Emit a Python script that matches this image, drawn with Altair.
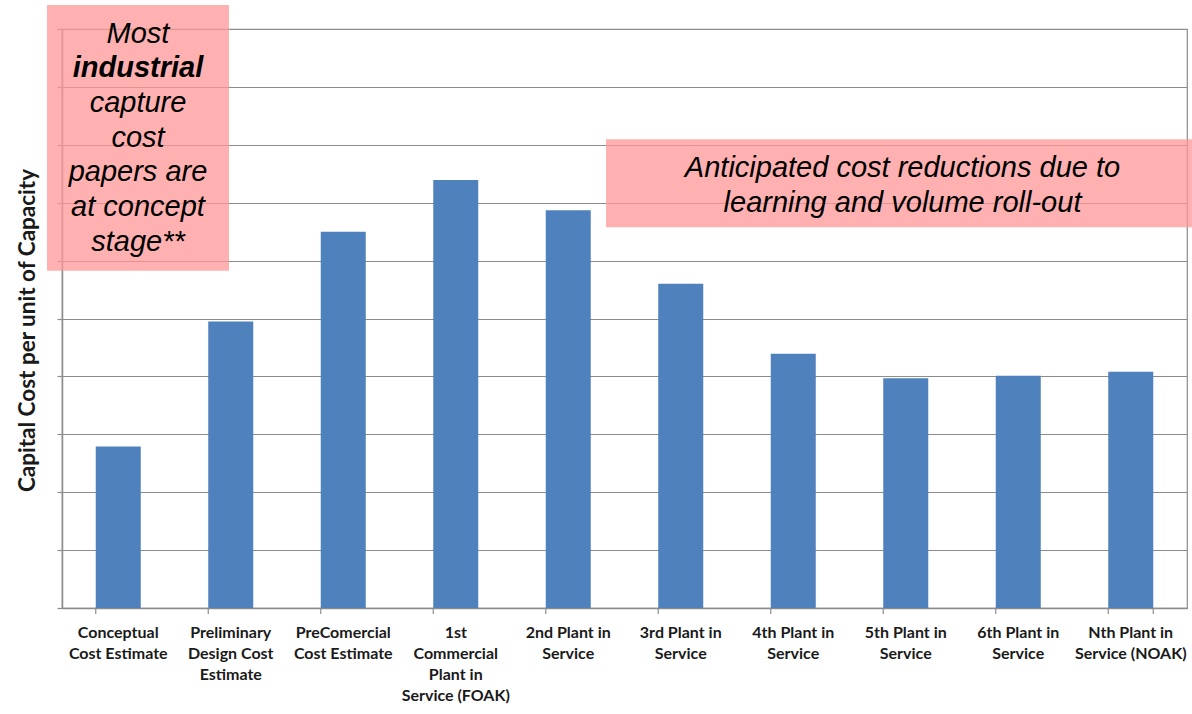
import altair as alt
import pandas as pd

# Stage labels, one inner list per category (lines of the axis label)
stage_lines = [
    ["Conceptual", "Cost Estimate"],
    ["Preliminary", "Design Cost", "Estimate"],
    ["PreComercial", "Cost Estimate"],
    ["1st", "Commercial", "Plant in", "Service (FOAK)"],
    ["2nd Plant  in", "Service"],
    ["3rd Plant in", "Service"],
    ["4th Plant in", "Service"],
    ["5th Plant in", "Service"],
    ["6th Plant in", "Service"],
    ["Nth Plant in", "Service (NOAK)"],
]
# Relative capital cost per unit of capacity
cost = [2.79, 4.95, 6.50, 7.39, 6.87, 5.60, 4.39, 3.97, 4.01, 4.08]
grid_values = list(range(0, 11))

# Left note: italic head line, bold-italic keyword, italic remainder
left_note_head = "Most"
left_note_bold = "industrial"
left_note_tail = ["capture", "cost", "papers are", "at concept", "stage**"]
right_note_lines = ["Anticipated cost reductions due to", "learning and volume roll-out"]

stages = ["|".join(s) for s in stage_lines]
df = pd.DataFrame({"stage": stages, "cost": cost})

W, H = 1125, 579
BAR = "#4F81BD"
GRID = "#8c8c8c"
PINK = "#FF9696"
LABEL_FONT = "Lato"
NOTE_FONT = "Liberation Sans"
NOTE_SIZE = 29
NOTE_LH = 34.7

x_enc = alt.X(
    "stage:N",
    sort=stages,
    scale=alt.Scale(paddingInner=0.6, paddingOuter=0.3),
    axis=alt.Axis(
        title=None,
        labelExpr="split(datum.label, '|')",
        labelAngle=0,
        ticks=False,
        labelFont=LABEL_FONT,
        labelFontSize=16,
        labelFontWeight="bold",
        labelColor="#1a1a1a",
        labelLineHeight=21,
        labelPadding=16,
        labelBaseline="top",
        labelLimit=0,
        domainColor=GRID,
        domainWidth=1.5,
    ),
)
y_enc = alt.Y(
    "cost:Q",
    scale=alt.Scale(domain=[0, 10], nice=False),
    axis=alt.Axis(
        values=grid_values,
        labels=False,
        tickSize=5,
        tickColor=GRID,
        tickWidth=1.2,
        gridColor=GRID,
        gridWidth=1.2,
        gridOpacity=1,
        domainColor=GRID,
        domainWidth=1.5,
        title="Capital Cost per unit of Capacity",
        titleFont=LABEL_FONT,
        titleFontSize=22.5,
        titleFontWeight="bold",
        titleColor="#1a1a1a",
        titleAngle=270,
        titleAlign="center",
        titleBaseline="middle",
        titleX=-35,
        titleY=301,
    ),
)

bars = alt.Chart(df).mark_bar(color=BAR).encode(x=x_enc, y=y_enc)

# Category separator ticks below the x axis
sep_ticks = alt.Chart(df).mark_rule(color=GRID, strokeWidth=1.2).encode(
    x=alt.X("stage:N", sort=stages, bandPosition=0),
    y=alt.value(H),
    y2=alt.value(H + 6),
)
end_tick = alt.Chart(df.tail(1)).mark_rule(color=GRID, strokeWidth=1.2).encode(
    x=alt.X("stage:N", sort=stages, bandPosition=1),
    y=alt.value(H),
    y2=alt.value(H + 6),
)

one = pd.DataFrame({"k": [0]})


def note(text, x, y, bold=False, line_height=NOTE_LH):
    return alt.Chart(one).mark_text(
        text=text,
        font=NOTE_FONT,
        fontSize=NOTE_SIZE,
        fontStyle="italic",
        fontWeight="bold" if bold else "normal",
        align="center",
        baseline="alphabetic",
        lineHeight=line_height,
        color="#000000",
    ).encode(x=alt.value(x), y=alt.value(y))


left_box = alt.Chart(one).mark_rect(color=PINK, opacity=0.75).encode(
    x=alt.value(-15), x2=alt.value(167), y=alt.value(-24), y2=alt.value(241.7)
)
left_top = 13.7
left_head = note(left_note_head, 76, left_top)
left_bold = note(left_note_bold, 76, left_top + NOTE_LH, bold=True)
left_tail = note(left_note_tail, 76, left_top + 2 * NOTE_LH)

right_box = alt.Chart(one).mark_rect(color=PINK, opacity=0.75).encode(
    x=alt.value(544), x2=alt.value(1135), y=alt.value(110.3), y2=alt.value(198.3)
)
right_text = note(right_note_lines, 840.5, 147.7, line_height=35)

chart = (
    alt.layer(
        bars, sep_ticks, end_tick,
        left_box, left_head, left_bold, left_tail,
        right_box, right_text,
    )
    .properties(
        width=W,
        height=H,
        autosize=alt.AutoSizeParams(type="none"),
        padding={"left": 62, "top": 29, "right": 5, "bottom": 106},
        background="white",
    )
    .configure_view(stroke=GRID, strokeWidth=1.2)
)

chart.save("out.html", embed_options={"renderer": "svg", "actions": False})
